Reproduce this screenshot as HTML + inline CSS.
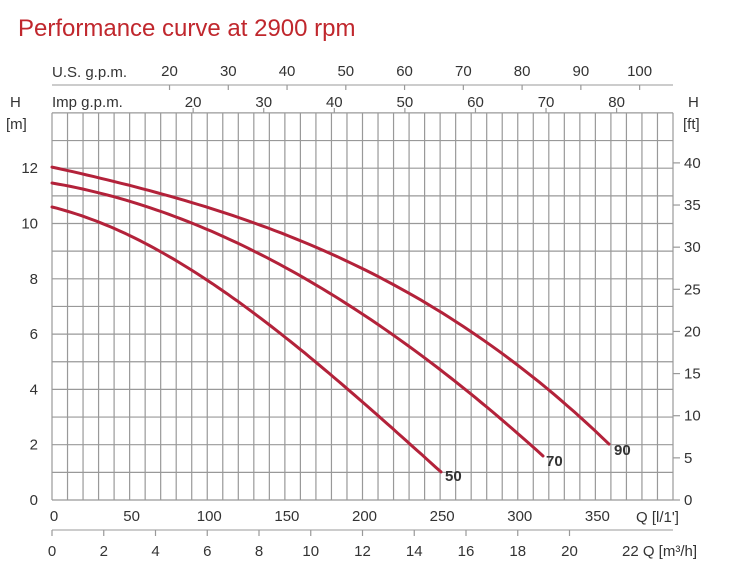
<!DOCTYPE html>
<html><head><meta charset="utf-8"><style>
body{margin:0;background:#fff}
svg{display:block}
text{font-family:"Liberation Sans",sans-serif;fill:#333}
</style></head><body>
<svg width="751" height="571" viewBox="0 0 751 571" xmlns="http://www.w3.org/2000/svg">
<text x="18" y="36" font-size="24" style="fill:#c0272d">Performance curve at 2900 rpm</text>
<g id="grid" stroke="#999" stroke-width="1.2"></g>
<g font-size="15" id="labels"></g>
<line x1="52" y1="85" x2="673" y2="85" stroke="#999"/>
<line x1="52" y1="530" x2="673" y2="530" stroke="#999"/>
<text x="52" y="77" font-size="15">U.S. g.p.m.</text>
<text x="52" y="107" font-size="15">Imp g.p.m.</text>
<text x="10" y="107" font-size="15">H</text>
<text x="6" y="129" font-size="15">[m]</text>
<text x="688" y="107" font-size="15">H</text>
<text x="683" y="129" font-size="15">[ft]</text>
<text x="636" y="522" font-size="15">Q [l/1']</text>
<text x="622" y="556" font-size="15">22 Q [m³/h]</text>
<g id="curves" fill="none" stroke="#b3223a" stroke-width="3" stroke-linecap="round"></g>
<g font-size="15" style="font-weight:bold" >
<text x="445" y="481">50</text>
<text x="546" y="466">70</text>
<text x="614" y="455">90</text>
</g>
</svg>
<script>
const g=document.getElementById('grid'),L=document.getElementById('labels'),C=document.getElementById('curves');
const ns='http://www.w3.org/2000/svg';
function ln(p,x1,y1,x2,y2){const e=document.createElementNS(ns,'line');e.setAttribute('x1',x1);e.setAttribute('y1',y1);e.setAttribute('x2',x2);e.setAttribute('y2',y2);p.appendChild(e);return e;}
function tx(x,y,s,a){const e=document.createElementNS(ns,'text');e.setAttribute('x',x);e.setAttribute('y',y);e.setAttribute('text-anchor',a||'middle');e.textContent=s;L.appendChild(e);}
const X=q=>52+q*1.5525, Y=h=>500-h*27.65;
for(let i=0;i<=40;i++)ln(g,X(i*10),Y(14),X(i*10),500);
for(let h=0;h<=14;h++)ln(g,52,Y(h),673,Y(h));
for(let h=0;h<=12;h+=2)tx(38,Y(h)+5,h,'end');
for(let f=0;f<=40;f+=5){const y=500-f*0.3048*27.65;ln(g,673,y,680,y);tx(684,y+5,f,'start');}
for(let q=0;q<=350;q+=50){tx(X(q)+2,521,q);}
for(let m=0;m<=20;m+=2){const x=X(m*1000/60);ln(g,x,530,x,536);tx(x,556,m);}
for(let u=20;u<=100;u+=10){const x=X(u*3.785);ln(g,x,85,x,90);tx(x,76,u);}
for(let u=20;u<=80;u+=10){const x=X(u*4.546);ln(g,x,108,x,113);tx(x,107,u);}
function solve(A,b){const n=b.length;for(let i=0;i<n;i++){let m=i;for(let k=i+1;k<n;k++)if(Math.abs(A[k][i])>Math.abs(A[m][i]))m=k;[A[i],A[m]]=[A[m],A[i]];[b[i],b[m]]=[b[m],b[i]];
for(let k=i+1;k<n;k++){const f=A[k][i]/A[i][i];for(let j=i;j<n;j++)A[k][j]-=f*A[i][j];b[k]-=f*b[i];}}
const x=new Array(n).fill(0);for(let i=n-1;i>=0;i--){let s=b[i];for(let j=i+1;j<n;j++)s-=A[i][j]*x[j];x[i]=s/A[i][i];}return x;}
function fit(P){const D=4,A=[],b=[];for(let i=0;i<D;i++){A.push(new Array(D).fill(0));b.push(0);}
for(const [x,y] of P){const u=(x-52)/100,w=(x==P[0][0]||x==P[P.length-1][0])?20:1;for(let i=0;i<D;i++){b[i]+=w*y*u**i;for(let j=0;j<D;j++)A[i][j]+=w*u**(i+j);}}
const c=solve(A,b);let d='';const x0=P[0][0],x1=P[P.length-1][0];
for(let x=x0;x<=x1+0.01;x+=(x1-x0)/80){const u=(x-52)/100;const y=c[0]+c[1]*u+c[2]*u*u+c[3]*u*u*u;d+=(d?' L':'M')+x.toFixed(1)+','+y.toFixed(1);}
const e=document.createElementNS(ns,'path');e.setAttribute('d',d);C.appendChild(e);}
fit([[52,167],[150,193],[255,224],[330,251],[395,283],[473,334],[500,355],[609,444]]);
fit([[52,183],[150,209],[255,250],[325,290],[395,338],[500,417],[543,456]]);
fit([[52,207],[150,247],[205,278],[255,312],[330,378],[398,430],[441,472]]);
</script>
</body></html>
